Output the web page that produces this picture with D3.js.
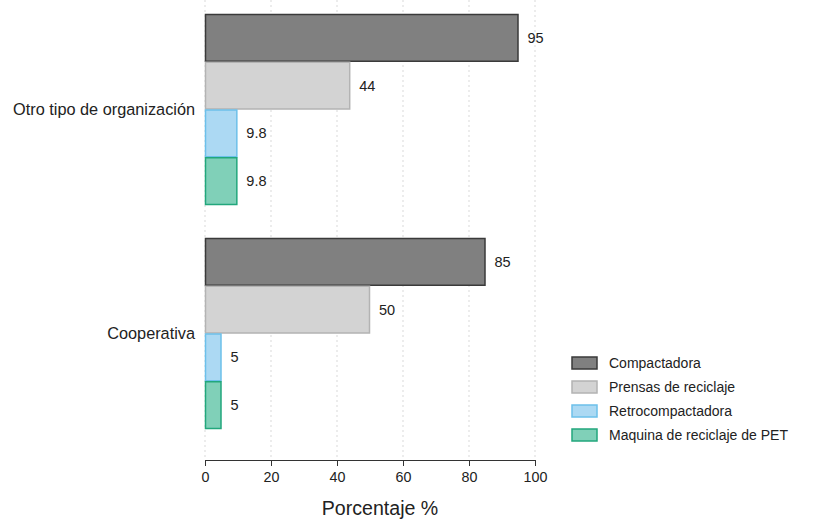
<!DOCTYPE html>
<html><head><meta charset="utf-8">
<script src="https://cdn.jsdelivr.net/npm/d3@7"></script>
<style>body{margin:0;background:#fff}svg{display:block;font-family:"Liberation Sans",Arial,sans-serif}</style>
</head><body><svg id="c" width="821" height="520"></svg>
<script>
const categories = ["Otro tipo de organización", "Cooperativa"];
const seriesNames = ["Compactadora", "Prensas de reciclaje", "Retrocompactadora", "Maquina de reciclaje de PET"];
const compactadora = [95, 85];
const prensas = [44, 50];
const retro = [9.8, 5];
const maquina = [9.8, 5];
const labels = [["95","85"],["44","50"],["9.8","5"],["9.8","5"]];
const xTicks = [0, 20, 40, 60, 80, 100];
const fills = ["#808080", "#d3d3d3", "#acd9f3", "#80d0b8"];
const strokes = ["#3a3a3a", "#b3b3b3", "#6cc0ea", "#22a77c"];

const values = [compactadora, prensas, retro, maquina];
const svg = d3.select("#c");
const x = d3.scaleLinear().domain([0, 100]).range([205, 535]);
const y = d3.scaleBand().domain(categories).range([14, 429]).paddingInner(33/224).paddingOuter(0);
const ys = d3.scaleBand().domain(seriesNames).range([0, y.bandwidth()]);

// grid
svg.append("g").selectAll("line").data(xTicks).join("line")
  .attr("x1", d => x(d)).attr("x2", d => x(d)).attr("y1", 0).attr("y2", 460)
  .attr("stroke", "#d9d9d9").attr("stroke-dasharray", "2,3").attr("stroke-width", 1);

// bars
seriesNames.forEach((s, si) => {
  const g = svg.append("g");
  g.selectAll("rect").data(categories).join("rect")
    .attr("x", x(0) + 0.5)
    .attr("y", (c) => y(c) + ys(s) + 0.5)
    .attr("width", (c, i) => Math.max(0, x(values[si][i]) - x(0) - 1))
    .attr("height", ys.bandwidth() - 1)
    .attr("fill", fills[si]).attr("stroke", strokes[si]).attr("stroke-width", 1.5);
  g.selectAll("text").data(categories).join("text")
    .attr("x", (c, i) => x(values[si][i]) + 9)
    .attr("y", c => y(c) + ys(s) + ys.bandwidth() / 2)
    .attr("dy", "0.35em").attr("font-size", 14.5).attr("fill", "#222")
    .text((c, i) => labels[si][i]);
});

// category labels
svg.append("g").selectAll("text").data(categories).join("text")
  .attr("x", 195).attr("y", c => y(c) + y.bandwidth() / 2)
  .attr("dy", "0.35em").attr("text-anchor", "end").attr("font-size", 16.3).attr("fill", "#222")
  .text(d => d);

// x axis
const ax = svg.append("g").attr("transform", "translate(0,460)")
  .call(d3.axisBottom(x).tickValues(xTicks).tickSize(6).tickPadding(6));
ax.select(".domain").attr("stroke", "#333");
ax.selectAll(".tick line").attr("stroke", "#333");
ax.selectAll(".tick text").attr("font-size", 14.3).attr("fill", "#222").attr("font-family", "Liberation Sans, Arial, sans-serif");

svg.append("text").attr("x", x(50) + 10).attr("y", 515).attr("text-anchor", "middle")
  .attr("font-size", 19.6).attr("fill", "#222").text("Porcentaje %");

// legend
const lg = svg.append("g");
seriesNames.forEach((s, i) => {
  const yy = 363 + i * 24;
  lg.append("rect").attr("x", 572).attr("y", yy - 6).attr("width", 25).attr("height", 12)
    .attr("fill", fills[i]).attr("stroke", strokes[i]).attr("stroke-width", 1.5);
  lg.append("text").attr("x", 609).attr("y", yy).attr("dy", "0.35em")
    .attr("font-size", 14).attr("fill", "#222").text(s);
});
</script></body></html>
